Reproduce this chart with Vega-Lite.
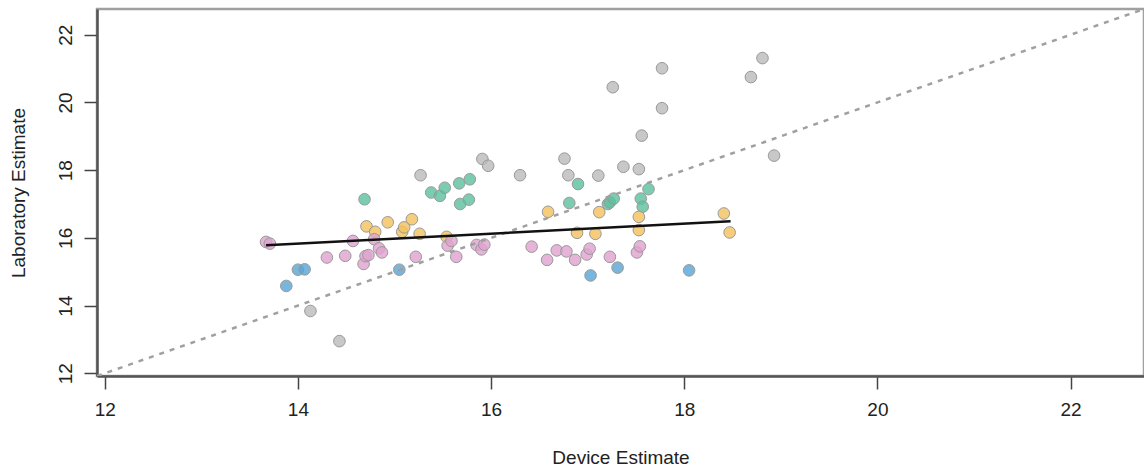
{
  "$schema": "https://vega.github.io/schema/vega-lite/v6.json",
  "width": 1047,
  "height": 367,
  "autosize": {"type": "none"},
  "padding": {"left": 97, "top": 9, "right": 0, "bottom": 92},
  "background": "white",
  "config": {
    "view": {"stroke": "#a0a0a0", "strokeWidth": 2.5},
    "font": "Liberation Sans",
    "axis": {
      "grid": false,
      "domainColor": "#555555",
      "domainWidth": 2.5,
      "tickColor": "#444444",
      "tickWidth": 1.5,
      "tickSize": 13,
      "labelFontSize": 19,
      "labelColor": "#222222",
      "labelFlush": false,
      "labelBound": false,
      "labelOverlap": false,
      "titleFontSize": 19,
      "titleFontWeight": "normal",
      "titleColor": "#222222"
    }
  },
  "datasets": {
    "points": [
      {"device": 14.13, "lab": 13.84, "g": "gray"},
      {"device": 14.43, "lab": 12.95, "g": "gray"},
      {"device": 15.27, "lab": 17.85, "g": "gray"},
      {"device": 15.91, "lab": 18.33, "g": "gray"},
      {"device": 15.97, "lab": 18.13, "g": "gray"},
      {"device": 16.30, "lab": 17.85, "g": "gray"},
      {"device": 16.76, "lab": 18.34, "g": "gray"},
      {"device": 16.80, "lab": 17.85, "g": "gray"},
      {"device": 17.11, "lab": 17.84, "g": "gray"},
      {"device": 17.26, "lab": 20.45, "g": "gray"},
      {"device": 17.37, "lab": 18.10, "g": "gray"},
      {"device": 17.53, "lab": 18.03, "g": "gray"},
      {"device": 17.56, "lab": 19.02, "g": "gray"},
      {"device": 17.77, "lab": 21.01, "g": "gray"},
      {"device": 17.77, "lab": 19.83, "g": "gray"},
      {"device": 18.69, "lab": 20.75, "g": "gray"},
      {"device": 18.81, "lab": 21.31, "g": "gray"},
      {"device": 18.93, "lab": 18.43, "g": "gray"},
      {"device": 14.69, "lab": 17.14, "g": "teal"},
      {"device": 15.38, "lab": 17.34, "g": "teal"},
      {"device": 15.47, "lab": 17.24, "g": "teal"},
      {"device": 15.52, "lab": 17.48, "g": "teal"},
      {"device": 15.67, "lab": 17.61, "g": "teal"},
      {"device": 15.78, "lab": 17.73, "g": "teal"},
      {"device": 15.68, "lab": 17.00, "g": "teal"},
      {"device": 15.77, "lab": 17.13, "g": "teal"},
      {"device": 16.81, "lab": 17.03, "g": "teal"},
      {"device": 16.90, "lab": 17.59, "g": "teal"},
      {"device": 17.21, "lab": 17.00, "g": "teal"},
      {"device": 17.23, "lab": 17.05, "g": "teal"},
      {"device": 17.27, "lab": 17.16, "g": "teal"},
      {"device": 17.55, "lab": 17.16, "g": "teal"},
      {"device": 17.57, "lab": 16.92, "g": "teal"},
      {"device": 17.63, "lab": 17.44, "g": "teal"},
      {"device": 14.71, "lab": 16.34, "g": "yellow"},
      {"device": 14.80, "lab": 16.18, "g": "yellow"},
      {"device": 14.93, "lab": 16.46, "g": "yellow"},
      {"device": 15.08, "lab": 16.18, "g": "yellow"},
      {"device": 15.10, "lab": 16.31, "g": "yellow"},
      {"device": 15.18, "lab": 16.55, "g": "yellow"},
      {"device": 15.26, "lab": 16.12, "g": "yellow"},
      {"device": 15.54, "lab": 16.03, "g": "yellow"},
      {"device": 16.59, "lab": 16.77, "g": "yellow"},
      {"device": 16.89, "lab": 16.15, "g": "yellow"},
      {"device": 17.08, "lab": 16.12, "g": "yellow"},
      {"device": 17.12, "lab": 16.76, "g": "yellow"},
      {"device": 17.53, "lab": 16.62, "g": "yellow"},
      {"device": 17.53, "lab": 16.23, "g": "yellow"},
      {"device": 18.41, "lab": 16.72, "g": "yellow"},
      {"device": 18.47, "lab": 16.16, "g": "yellow"},
      {"device": 13.67, "lab": 15.88, "g": "pink"},
      {"device": 13.71, "lab": 15.83, "g": "pink"},
      {"device": 14.30, "lab": 15.42, "g": "pink"},
      {"device": 14.49, "lab": 15.47, "g": "pink"},
      {"device": 14.57, "lab": 15.91, "g": "pink"},
      {"device": 14.68, "lab": 15.23, "g": "pink"},
      {"device": 14.70, "lab": 15.46, "g": "pink"},
      {"device": 14.73, "lab": 15.49, "g": "pink"},
      {"device": 14.79, "lab": 15.96, "g": "pink"},
      {"device": 14.84, "lab": 15.69, "g": "pink"},
      {"device": 14.87, "lab": 15.57, "g": "pink"},
      {"device": 15.22, "lab": 15.44, "g": "pink"},
      {"device": 15.55, "lab": 15.77, "g": "pink"},
      {"device": 15.59, "lab": 15.91, "g": "pink"},
      {"device": 15.64, "lab": 15.44, "g": "pink"},
      {"device": 15.85, "lab": 15.79, "g": "pink"},
      {"device": 15.90, "lab": 15.66, "g": "pink"},
      {"device": 15.93, "lab": 15.80, "g": "pink"},
      {"device": 16.42, "lab": 15.74, "g": "pink"},
      {"device": 16.58, "lab": 15.35, "g": "pink"},
      {"device": 16.68, "lab": 15.63, "g": "pink"},
      {"device": 16.78, "lab": 15.60, "g": "pink"},
      {"device": 16.87, "lab": 15.35, "g": "pink"},
      {"device": 16.99, "lab": 15.51, "g": "pink"},
      {"device": 17.02, "lab": 15.68, "g": "pink"},
      {"device": 17.23, "lab": 15.44, "g": "pink"},
      {"device": 17.51, "lab": 15.57, "g": "pink"},
      {"device": 17.54, "lab": 15.75, "g": "pink"},
      {"device": 13.88, "lab": 14.58, "g": "blue"},
      {"device": 14.00, "lab": 15.06, "g": "blue"},
      {"device": 14.07, "lab": 15.07, "g": "blue"},
      {"device": 15.05, "lab": 15.06, "g": "blue"},
      {"device": 17.03, "lab": 14.89, "g": "blue"},
      {"device": 17.31, "lab": 15.12, "g": "blue"},
      {"device": 18.05, "lab": 15.04, "g": "blue"}
    ],
    "fit": [
      {"device": 13.67, "lab": 15.78},
      {"device": 18.48, "lab": 16.49}
    ],
    "identity": [
      {"device": 11.92, "lab": 11.92},
      {"device": 22.76, "lab": 22.76}
    ]
  },
  "encoding": {
    "x": {
      "field": "device",
      "type": "quantitative",
      "scale": {"domain": [11.92, 22.76], "nice": false, "zero": false},
      "axis": {
        "values": [12, 14, 16, 18, 20, 22],
        "title": "Device Estimate",
        "labelPadding": 11,
        "titleBaseline": "alphabetic",
        "titleY": 87
      }
    },
    "y": {
      "field": "lab",
      "type": "quantitative",
      "scale": {"domain": [11.92, 22.76], "nice": false, "zero": false},
      "axis": {
        "values": [12, 14, 16, 18, 20, 22],
        "title": "Laboratory Estimate",
        "labelAngle": 270,
        "labelAlign": "center",
        "labelBaseline": "bottom",
        "labelPadding": 9,
        "titleAngle": 270,
        "titleBaseline": "alphabetic",
        "titleX": -73
      }
    }
  },
  "layer": [
    {
      "data": {"name": "points"},
      "mark": {"type": "circle", "size": 135, "stroke": "#999999", "strokeWidth": 1, "fillOpacity": 0.82, "opacity": 1},
      "encoding": {
        "color": {
          "field": "g",
          "type": "nominal",
          "scale": {
            "domain": ["gray", "teal", "yellow", "pink", "blue"],
            "range": ["#bcbcbc", "#5ec1a0", "#f3c25f", "#dfa3cf", "#5da6d3"]
          },
          "legend": null
        }
      }
    },
    {
      "data": {"name": "identity"},
      "mark": {"type": "line", "color": "#a0a0a0", "strokeWidth": 2.5, "strokeDash": [5, 6], "clip": true},
      "encoding": {}
    },
    {
      "data": {"name": "fit"},
      "mark": {"type": "line", "color": "#111111", "strokeWidth": 2.6},
      "encoding": {}
    }
  ]
}
